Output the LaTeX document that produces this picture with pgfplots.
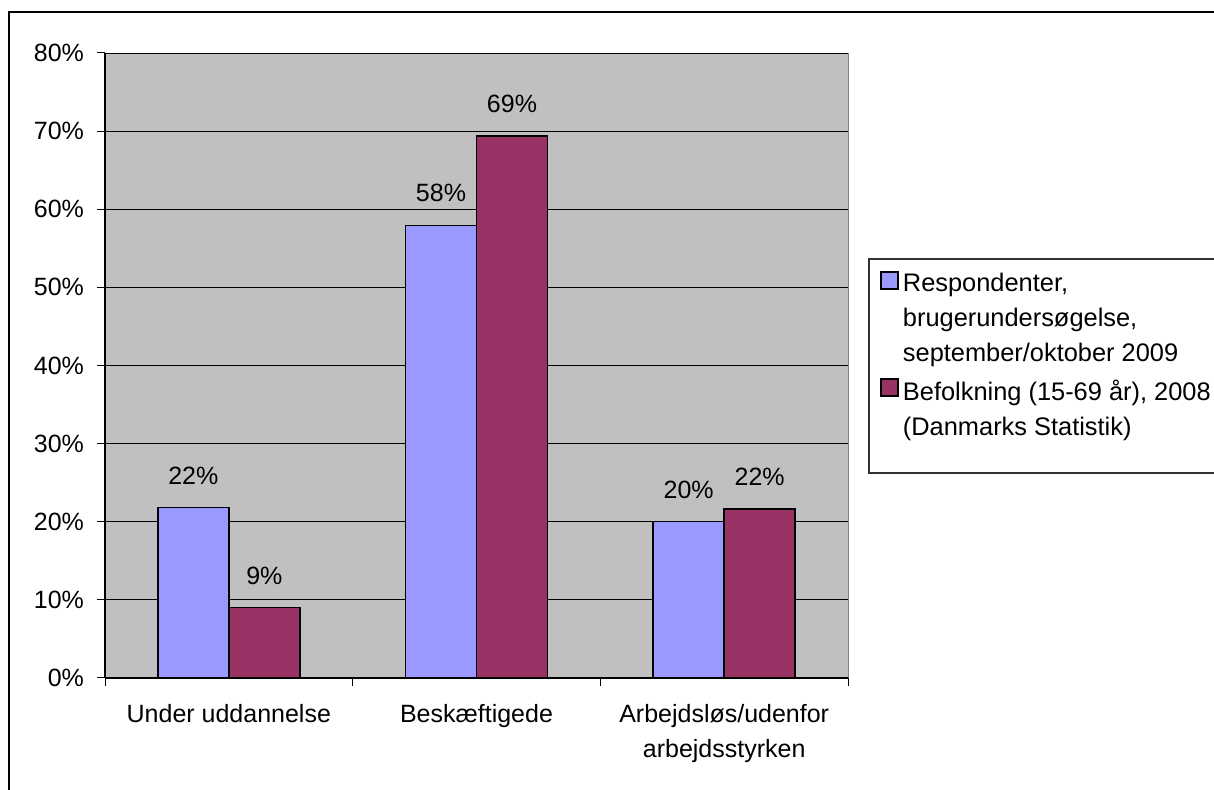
\documentclass[border=0pt]{standalone}
\usepackage{pgfplots}
\pgfplotsset{compat=1.18}
\usepackage{fontspec}
\setmainfont{Liberation Sans}
\definecolor{serA}{HTML}{9999FF}
\definecolor{serB}{HTML}{993366}
\definecolor{plotbg}{HTML}{C0C0C0}
\newcommand\chartfont{\fontsize{12.5}{17.5}\selectfont}
\newcommand\legfont{\fontsize{12.7}{17.5}\selectfont}
\pgfplotsset{sqlegend/.style={legend image code/.code={%
  \draw[##1] (0pt,-1.5pt) rectangle (8.5pt,-10pt);}}}

% 1 px of the reference = 0.5pt
\begin{document}
\begin{tikzpicture}
\begin{axis}[
  at={(52.5pt,56pt)}, anchor=south west,
  width=371.5pt, height=312.5pt, scale only axis,
  ybar=0pt, bar width=35.5pt,
  xmin=-0.5, xmax=2.5, ymin=0, ymax=80,
  xtick={-0.5,0.5,1.5,2.5}, x tick label as interval,
  xticklabels={Under uddannelse, Beskæftigede, {Arbejdsløs/udenfor\\arbejdsstyrken}},
  ytick={0,10,...,80},
  yticklabel={\pgfmathprintnumber{\tick}\%},
  /pgf/number format/assume math mode=true,
  tick label style={font=\chartfont, black},
  xticklabel style={align=center, yshift=-5.5pt},
  yticklabel style={xshift=-3pt},
  axis lines=left, axis line style={-, black, line width=0.6pt},
  tick align=outside, major tick length=4pt,
  tick style={black, line width=0.5pt},
  ymajorgrids, major grid style={black, line width=0.4pt},
  axis background/.style={fill=plotbg, draw=gray},
  nodes near coords={\pgfmathprintnumber[fixed,precision=0]{\pgfplotspointmeta}\%},
  every node near coord/.append style={font=\chartfont, black, yshift=8pt},
  legend style={at={(1.0431,0.655)}, anchor=north west, draw=none, fill=none,
    inner sep=0pt, row sep=3.5pt, column sep=0pt, font=\legfont,
    cells={anchor=north west, align=left, inner xsep=4pt, inner ysep=0pt}},
]
\addplot[fill=serA, draw=black, line width=0.75pt, sqlegend]
  coordinates {(0,21.8) (1,57.9) (2,20.0)};
\addplot[fill=serB, draw=black, line width=0.75pt, sqlegend]
  coordinates {(0,9.0) (1,69.4) (2,21.6)};
\legend{{Respondenter,\\brugerundersøgelse,\\september/oktober 2009},
        {Befolkning (15-69 år), 2008\\(Danmarks Statistik)}}
\end{axis}
% legend frame and outer chart frame
\draw[black!80, line width=0.6pt] (434.5pt,158.5pt) rectangle (640pt,265.5pt);
\draw[black, line width=0.6pt] (4.5pt,-10pt) -- (4.5pt,389pt) -- (640pt,389pt);
\pgfresetboundingbox
\path[use as bounding box] (0pt,0pt) rectangle (607pt,395pt);
\end{tikzpicture}
\end{document}
